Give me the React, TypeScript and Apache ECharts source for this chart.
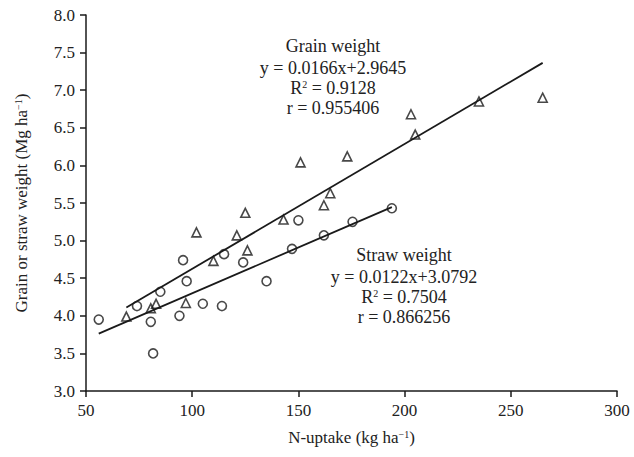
import React, { useEffect, useRef } from "react";
import * as echarts from "echarts";

const grainX = [69, 80.5, 83, 97, 102, 110, 121, 125, 126, 143, 151, 162, 165, 173, 203, 205, 235, 265];
const grainY = [3.99, 4.1, 4.16, 4.17, 5.11, 4.73, 5.07, 5.37, 4.87, 5.28, 6.04, 5.47, 5.63, 6.12, 6.68, 6.41, 6.85, 6.9];
const strawX = [56, 74, 80.5, 81.6, 85, 94, 95.7, 97.4, 105, 114, 115, 124, 135, 147, 150, 162, 175.5, 194];
const strawY = [3.95, 4.13, 3.92, 3.5, 4.32, 4.0, 4.74, 4.46, 4.16, 4.13, 4.82, 4.71, 4.46, 4.89, 5.27, 5.07, 5.25, 5.43];

const grainFit = { slope: 0.0166, intercept: 2.9645 };
const strawFit = { slope: 0.0122, intercept: 3.0792 };

const grainText = ["Grain weight", "y = 0.0166x+2.9645", "R{sup|2} = 0.9128", "r = 0.955406"];
const strawText = ["Straw weight", "y = 0.0122x+3.0792", "R{sup|2} = 0.7504", "r = 0.866256"];

const FONT = "'Liberation Serif', 'Times New Roman', serif";
const INK = "#1a1a1a";

function fitLine(xs: number[], fit: { slope: number; intercept: number }) {
  const lo = Math.min(...xs);
  const hi = Math.max(...xs);
  return [
    [lo, fit.slope * lo + fit.intercept],
    [hi, fit.slope * hi + fit.intercept],
  ];
}

function textBlock(lines: string[], cx: number, ys: number[]) {
  return lines.map((t, i) => ({
    type: "text",
    x: cx,
    y: ys[i],
    style: {
      text: t,
      align: "center",
      verticalAlign: "middle",
      fontFamily: FONT,
      fontSize: 18,
      fill: "#222",
      rich: {
        sup: { fontSize: 10, fontFamily: FONT, fill: "#222", verticalAlign: "top", lineHeight: 10, padding: [0, 0, 6, 0] },
      },
    },
  }));
}

export default function App() {
  const ref = useRef<HTMLDivElement>(null);
  useEffect(() => {
    document.body.style.margin = "0";
    const chart = echarts.init(ref.current!, null, { renderer: "svg" });
    const axisCommon = {
      axisLine: { show: true, onZero: false, lineStyle: { color: INK, width: 1.5 } },
      axisTick: { show: true, inside: false, length: 6, lineStyle: { color: INK, width: 1.5 } },
      splitLine: { show: false },
      nameLocation: "middle",
    };
    chart.setOption({
      animation: false,
      backgroundColor: "#fff",
      grid: { left: 86, right: 17, top: 15, bottom: 66 },
      xAxis: {
        ...axisCommon,
        type: "value",
        min: 50,
        max: 300,
        interval: 50,
        axisLabel: { fontFamily: FONT, fontSize: 17, color: "#222", margin: 11 },
        name: "N-uptake (kg ha{sup|−1})",
        nameGap: 38,
        nameTextStyle: {
          fontFamily: FONT,
          fontSize: 17,
          color: "#222",
          rich: { sup: { fontSize: 10, fontFamily: FONT, color: "#222", verticalAlign: "top", lineHeight: 10, padding: [0, 0, 6, 0] } },
        },
      },
      yAxis: {
        ...axisCommon,
        type: "value",
        min: 3,
        max: 8,
        interval: 0.5,
        axisLabel: { fontFamily: FONT, fontSize: 17, color: "#222", margin: 11, formatter: (v: number) => v.toFixed(1) },
        name: "Grain or straw weight (Mg ha{sup|−1})",
        nameGap: 56,
        nameTextStyle: {
          fontFamily: FONT,
          fontSize: 17,
          color: "#222",
          rich: { sup: { fontSize: 10, fontFamily: FONT, color: "#222", verticalAlign: "top", lineHeight: 10, padding: [0, 0, 6, 0] } },
        },
      },
      series: [
        {
          name: "Grain weight",
          type: "scatter",
          symbol: "triangle",
          symbolSize: 9,
          itemStyle: { color: "rgba(0,0,0,0)", borderColor: INK, borderWidth: 1.6 },
          data: grainX.map((x, i) => [x, grainY[i]]),
          z: 3,
        },
        {
          name: "Straw weight",
          type: "scatter",
          symbol: "circle",
          symbolSize: 9,
          itemStyle: { color: "rgba(0,0,0,0)", borderColor: INK, borderWidth: 1.6 },
          data: strawX.map((x, i) => [x, strawY[i]]),
          z: 3,
        },
        {
          type: "line",
          data: fitLine(grainX, grainFit),
          showSymbol: false,
          symbol: "none",
          lineStyle: { color: INK, width: 1.8 },
          z: 2,
        },
        {
          type: "line",
          data: fitLine(strawX, strawFit),
          showSymbol: false,
          symbol: "none",
          lineStyle: { color: INK, width: 1.8 },
          z: 2,
        },
      ],
      graphic: [
        ...textBlock(grainText, 333, [46, 68, 88, 108]),
        ...textBlock(strawText, 404, [255, 277, 297, 317]),
      ],
    });
    return () => chart.dispose();
  }, []);
  return <div ref={ref} style={{ width: 634, height: 457 }} />;
}
